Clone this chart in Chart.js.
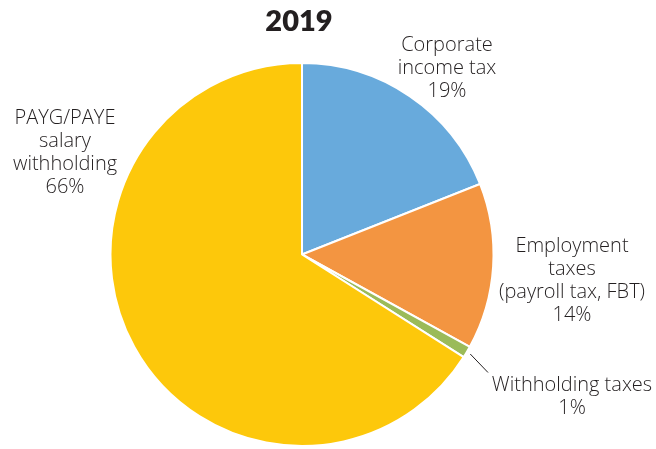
<!DOCTYPE html>
<html>
<head>
<meta charset="utf-8">
<script src="https://cdn.jsdelivr.net/npm/chart.js@4"></script>
<style>
  html, body { margin: 0; padding: 0; background: #fff; }
  #wrap { width: 656px; height: 449px; position: relative; }
</style>
</head>
<body>
<div id="wrap"><canvas id="pie"></canvas></div>
<script>
'use strict';

const year = '2019';
const categories = [
    ['Corporate', 'income tax'],
    ['Employment', 'taxes', '(payroll tax, FBT)'],
    ['Withholding taxes'],
    ['PAYG/PAYE', 'salary', 'withholding']
];
const shares = [19, 14, 1, 66];
const colors = ['#68aadc', '#f39541', '#9bbb59', '#fdc80b'];

// where each label block sits, measured from the pie centre (px)
const labelSpots = [
    { dx: 145, dy: -186 },
    { dx: 270, dy: 26 },
    { dx: 270, dy: 142, leader: { dx: 186, dy: 118 } },
    { dx: -237, dy: -102 }
];

const TITLE_FONT = 'Lato, "Noto Sans", sans-serif';
const LABEL_FONT = '"Open Sans", "Noto Sans", sans-serif';

const pieLabels = {
    id: 'pieLabels',
    afterDraw(chart) {
        const ctx = chart.ctx;
        const arcs = chart.getDatasetMeta(0).data;
        const cx = arcs[0].x, cy = arcs[0].y, r = arcs[0].outerRadius;

        // title
        ctx.save();
        ctx.fillStyle = '#231f20';
        ctx.font = '800 29px ' + TITLE_FONT;
        ctx.textAlign = 'center';
        ctx.textBaseline = 'middle';
        ctx.fillText(year, cx - 3, 22);

        ctx.font = '300 20px ' + LABEL_FONT;
        ctx.fillStyle = '#231f20';
        const lineH = 23;
        arcs.forEach((arc, i) => {
            const spot = labelSpots[i];
            const lines = categories[i].concat([shares[i] + '%']);
            const x = cx + spot.dx;
            const top = cy + spot.dy - (lines.length - 1) * lineH / 2;
            lines.forEach((t, k) => ctx.fillText(t, x, top + k * lineH));

            if (spot.leader) {
                const mid = (arc.startAngle + arc.endAngle) / 2;
                ctx.beginPath();
                ctx.strokeStyle = '#231f20';
                ctx.lineWidth = 1;
                ctx.moveTo(cx + Math.cos(mid) * (r + 4), cy + Math.sin(mid) * (r + 4));
                ctx.lineTo(cx + spot.leader.dx, cy + spot.leader.dy);
                ctx.stroke();
            }
        });
        ctx.restore();
    }
};

new Chart(document.getElementById('pie'), {
    type: 'pie',
    data: {
        labels: categories.map(c => c.join(' ')),
        datasets: [{
            data: shares,
            backgroundColor: colors,
            borderColor: '#ffffff',
            borderWidth: 2
        }]
    },
    options: {
        responsive: true,
        maintainAspectRatio: false,
        animation: false,
        layout: {
            padding: { top: 62, bottom: 2, left: 0, right: 52 }
        },
        plugins: {
            legend: { display: false },
            title: { display: false },
            tooltip: { enabled: false }
        }
    },
    plugins: [pieLabels]
});
</script>
</body>
</html>
